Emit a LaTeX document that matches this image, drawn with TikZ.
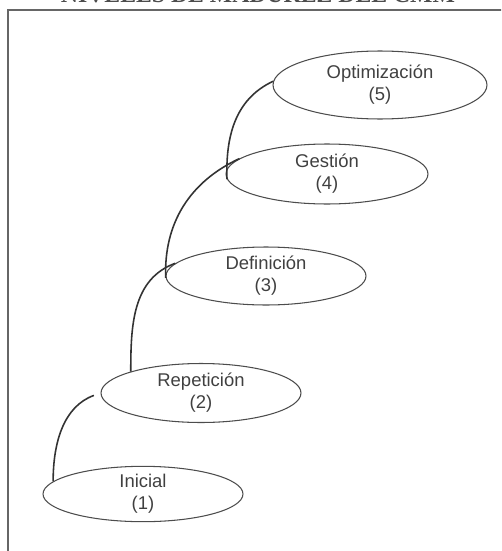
\documentclass[tikz,border=0pt]{standalone}
\usepackage{fontspec}
\setmainfont{Liberation Sans}
\newfontfamily\titlefont{Liberation Serif}
\usetikzlibrary{shapes.geometric}

\begin{document}
\begin{tikzpicture}[x=0.02cm,y=-0.02cm,
  nivel/.style = {draw=black!70, ellipse, line width=0.6pt, inner sep=0pt, minimum width=4cm, minimum height=1.16cm, align=center, text=black!75, font=\fontsize{10.5}{12.5}\selectfont},
  link/.style = {draw=black!80, line width=0.9pt},]
\clip (0,0) rectangle (501,551);
\node (titulo) at (258,3) [anchor=base, font=\titlefont\fontsize{13.5}{15}\selectfont\bfseries, text=black!70] {NIVELES DE MADUREZ DEL CMM};
\draw[black!60, line width=0.8pt] (8,580) |- (530,10);
\node (optimizacion) at (380,85) [nivel, minimum width=4.28cm, minimum height=1.36cm] {Optimización\\(5)};
\node (gestion) at (327,174) [nivel, minimum width=4.04cm, minimum height=1.2cm] {Gestión\\(4)};
\node (definicion) at (266,276) [nivel] {Definición\\(3)};
\node (repeticion) at (201,393) [nivel, minimum height=1.18cm] {Repetición\\(2)};
\node (inicial) at (143,494) [nivel, minimum height=1.1cm] {Inicial\\(1)};
\draw[link, shorten >=4pt] (inicial.172) to[out=90,in=200] (repeticion.west);
\draw[link] (repeticion.163) to[out=90,in=200] (definicion.172);
\draw[link] (definicion.181) to[out=92,in=205] (gestion.170);
\draw[link] (gestion.183) to[out=92,in=205] (optimizacion.178);
\end{tikzpicture}
\end{document}
